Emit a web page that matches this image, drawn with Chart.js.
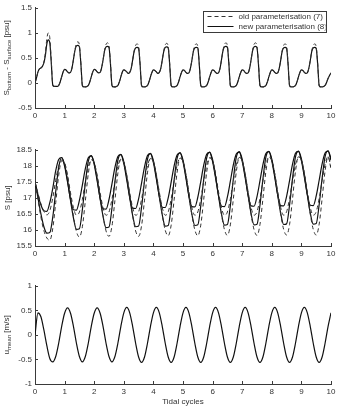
<!DOCTYPE html>
<html>
<head>
<meta charset="utf-8">
<script src="https://cdn.jsdelivr.net/npm/chart.js@4.4.0/dist/chart.umd.min.js"></script>
<style>
  html, body { margin: 0; padding: 0; background: #fff; }
  #wrap { position: relative; width: 341px; height: 410px; }
  canvas { position: absolute; left: 0; }
</style>
</head>
<body>
<div id="wrap">
  <canvas id="cDiff" width="341" height="125" style="top:0px"></canvas>
  <canvas id="cSal" width="341" height="121" style="top:142px"></canvas>
  <canvas id="cVel" width="341" height="132" style="top:278px"></canvas>
</div>
<script>
// sample times (tidal cycles)
const tTop = Array.from({ length: 201 }, (_, i) => i / 20);
const tMid = Array.from({ length: 101 }, (_, i) => i / 10);

// tick labels
const xTicks = [0, 1, 2, 3, 4, 5, 6, 7, 8, 9, 10];
const diffTicks = [-0.5, 0, 0.5, 1, 1.5];
const salTicks = [15.5, 16, 16.5, 17, 17.5, 18, 18.5];
const velTicks = [-1, -0.5, 0, 0.5, 1];

const labelOld = 'old parameterisation (7)';
const labelNew = 'new parameterisation (8)';

// S_bottom - S_surface, step 0.05
const diffNew = [
  0.00, 0.10, 0.22, 0.28, 0.30, 0.33, 0.40, 0.55, 0.78, 0.86, 0.80, 0.40, -0.04, -0.07, -0.07, -0.07, -0.05, 0.02, 0.12, 0.22,
  0.27, 0.26, 0.22, 0.20, 0.21, 0.30, 0.47, 0.65, 0.74, 0.75, 0.72, 0.38, -0.05, -0.08, -0.08, -0.07, -0.05, 0.02, 0.12, 0.22,
  0.27, 0.26, 0.22, 0.20, 0.21, 0.30, 0.46, 0.64, 0.72, 0.73, 0.71, 0.38, -0.05, -0.08, -0.08, -0.07, -0.05, 0.02, 0.12, 0.22,
  0.26, 0.25, 0.22, 0.19, 0.21, 0.29, 0.46, 0.63, 0.70, 0.71, 0.69, 0.37, -0.05, -0.08, -0.08, -0.07, -0.05, 0.02, 0.12, 0.21,
  0.26, 0.25, 0.22, 0.19, 0.21, 0.29, 0.46, 0.63, 0.71, 0.72, 0.70, 0.37, -0.05, -0.08, -0.08, -0.07, -0.05, 0.02, 0.12, 0.21,
  0.26, 0.25, 0.21, 0.19, 0.20, 0.29, 0.45, 0.63, 0.70, 0.71, 0.70, 0.37, -0.05, -0.08, -0.08, -0.07, -0.05, 0.02, 0.12, 0.21,
  0.26, 0.25, 0.21, 0.19, 0.20, 0.29, 0.46, 0.64, 0.72, 0.73, 0.71, 0.38, -0.05, -0.08, -0.08, -0.07, -0.05, 0.02, 0.12, 0.21,
  0.26, 0.25, 0.21, 0.19, 0.20, 0.29, 0.46, 0.64, 0.72, 0.73, 0.70, 0.37, -0.05, -0.08, -0.08, -0.07, -0.05, 0.02, 0.12, 0.21,
  0.26, 0.25, 0.21, 0.19, 0.20, 0.29, 0.45, 0.63, 0.70, 0.71, 0.69, 0.37, -0.05, -0.08, -0.08, -0.07, -0.05, 0.02, 0.12, 0.21,
  0.26, 0.25, 0.21, 0.19, 0.20, 0.29, 0.45, 0.63, 0.70, 0.71, 0.69, 0.37, -0.05, -0.08, -0.08, -0.07, -0.05, 0.01, 0.09, 0.15,
  0.20
];
const diffOld = [
  0.00, 0.10, 0.22, 0.28, 0.30, 0.33, 0.42, 0.60, 0.88, 1.00, 0.90, 0.45, -0.04, -0.07, -0.07, -0.07, -0.05, 0.02, 0.12, 0.22,
  0.27, 0.26, 0.22, 0.20, 0.21, 0.30, 0.47, 0.66, 0.79, 0.82, 0.75, 0.40, -0.05, -0.08, -0.08, -0.07, -0.05, 0.02, 0.12, 0.22,
  0.27, 0.26, 0.22, 0.20, 0.21, 0.30, 0.46, 0.65, 0.77, 0.80, 0.74, 0.40, -0.05, -0.08, -0.08, -0.07, -0.05, 0.02, 0.12, 0.22,
  0.26, 0.25, 0.22, 0.19, 0.21, 0.29, 0.46, 0.64, 0.75, 0.78, 0.72, 0.39, -0.05, -0.08, -0.08, -0.07, -0.05, 0.02, 0.12, 0.21,
  0.26, 0.25, 0.22, 0.19, 0.21, 0.29, 0.46, 0.64, 0.76, 0.79, 0.73, 0.39, -0.05, -0.08, -0.08, -0.07, -0.05, 0.02, 0.12, 0.21,
  0.26, 0.25, 0.21, 0.19, 0.20, 0.29, 0.45, 0.64, 0.75, 0.78, 0.73, 0.39, -0.05, -0.08, -0.08, -0.07, -0.05, 0.02, 0.12, 0.21,
  0.26, 0.25, 0.21, 0.19, 0.20, 0.29, 0.46, 0.65, 0.77, 0.80, 0.74, 0.40, -0.05, -0.08, -0.08, -0.07, -0.05, 0.02, 0.12, 0.21,
  0.26, 0.25, 0.21, 0.19, 0.20, 0.29, 0.46, 0.65, 0.77, 0.80, 0.73, 0.39, -0.05, -0.08, -0.08, -0.07, -0.05, 0.02, 0.12, 0.21,
  0.26, 0.25, 0.21, 0.19, 0.20, 0.29, 0.45, 0.64, 0.75, 0.78, 0.72, 0.39, -0.05, -0.08, -0.08, -0.07, -0.05, 0.02, 0.12, 0.21,
  0.26, 0.25, 0.21, 0.19, 0.20, 0.29, 0.45, 0.64, 0.75, 0.78, 0.72, 0.39, -0.05, -0.08, -0.08, -0.07, -0.05, 0.01, 0.09, 0.15,
  0.20
];

// salinity [psu], step 0.1
const salNewBottom = [
  17.50, 17.10, 16.78, 16.60, 16.58, 16.85, 17.30, 17.85, 18.20, 18.26,
  17.99, 17.49, 16.96, 16.63, 16.62, 16.92, 17.40, 17.91, 18.25, 18.31,
  18.04, 17.53, 16.99, 16.66, 16.65, 16.95, 17.44, 17.95, 18.29, 18.35,
  18.07, 17.56, 17.02, 16.68, 16.67, 16.97, 17.46, 17.97, 18.32, 18.38,
  18.10, 17.59, 17.05, 16.71, 16.70, 17.00, 17.49, 18.00, 18.34, 18.40,
  18.12, 17.61, 17.07, 16.73, 16.72, 17.02, 17.51, 18.02, 18.36, 18.42,
  18.13, 17.62, 17.08, 16.74, 16.73, 17.03, 17.52, 18.03, 18.37, 18.43,
  18.14, 17.63, 17.09, 16.75, 16.74, 17.04, 17.53, 18.04, 18.38, 18.44,
  18.15, 17.64, 17.10, 16.76, 16.75, 17.05, 17.54, 18.05, 18.39, 18.45,
  18.16, 17.65, 17.11, 16.77, 16.76, 17.06, 17.55, 18.06, 18.40, 18.46,
  18.17
];
const salNewSurface = [
  17.50, 17.00, 16.50, 16.10, 15.90, 15.92, 16.40, 17.20, 17.95, 18.26,
  18.04, 17.54, 16.92, 16.37, 16.02, 16.04, 16.63, 17.46, 18.14, 18.32,
  18.09, 17.59, 16.97, 16.42, 16.07, 16.09, 16.68, 17.50, 18.18, 18.36,
  18.13, 17.63, 17.01, 16.45, 16.10, 16.12, 16.71, 17.53, 18.21, 18.39,
  18.16, 17.65, 17.03, 16.47, 16.12, 16.14, 16.73, 17.55, 18.23, 18.41,
  18.18, 17.67, 17.05, 16.49, 16.14, 16.16, 16.75, 17.57, 18.25, 18.43,
  18.19, 17.68, 17.06, 16.50, 16.15, 16.17, 16.76, 17.58, 18.26, 18.44,
  18.20, 17.69, 17.07, 16.51, 16.16, 16.18, 16.77, 17.59, 18.27, 18.45,
  18.21, 17.70, 17.08, 16.52, 16.17, 16.19, 16.78, 17.60, 18.28, 18.46,
  18.22, 17.71, 17.09, 16.53, 16.18, 16.20, 16.79, 17.61, 18.29, 18.47,
  18.23
];
const salOldBottom = [
  17.50, 17.15, 16.82, 16.58, 16.47, 16.60, 17.00, 17.55, 18.00, 18.18,
  18.09, 17.70, 17.16, 16.69, 16.46, 16.56, 16.95, 17.49, 17.96, 18.19,
  18.09, 17.70, 17.16, 16.69, 16.46, 16.56, 16.96, 17.50, 17.98, 18.21,
  18.11, 17.71, 17.17, 16.69, 16.46, 16.56, 16.96, 17.51, 18.00, 18.23,
  18.13, 17.73, 17.18, 16.69, 16.46, 16.56, 16.97, 17.52, 18.01, 18.24,
  18.14, 17.73, 17.18, 16.69, 16.46, 16.56, 16.97, 17.52, 18.02, 18.25,
  18.15, 17.74, 17.19, 16.69, 16.46, 16.56, 16.97, 17.53, 18.03, 18.26,
  18.16, 17.75, 17.19, 16.70, 16.46, 16.57, 16.98, 17.53, 18.03, 18.27,
  18.17, 17.75, 17.19, 16.70, 16.46, 16.57, 16.98, 17.54, 18.04, 18.28,
  18.18, 17.76, 17.20, 16.70, 16.46, 16.57, 16.98, 17.54, 18.05, 18.29,
  17.95
];
const salOldSurface = [
  17.50, 16.95, 16.40, 15.98, 15.75, 15.68, 16.05, 16.85, 17.70, 18.15,
  18.09, 17.67, 17.06, 16.42, 15.95, 15.78, 16.10, 16.90, 17.75, 18.19,
  18.09, 17.67, 17.06, 16.44, 15.97, 15.80, 16.12, 16.92, 17.77, 18.21,
  18.11, 17.69, 17.08, 16.44, 15.97, 15.80, 16.13, 16.93, 17.78, 18.23,
  18.13, 17.71, 17.10, 16.46, 15.99, 15.82, 16.15, 16.94, 17.79, 18.24,
  18.14, 17.72, 17.10, 16.47, 16.00, 15.82, 16.15, 16.95, 17.80, 18.25,
  18.15, 17.73, 17.11, 16.48, 16.01, 15.83, 16.16, 16.96, 17.81, 18.26,
  18.16, 17.74, 17.12, 16.48, 16.01, 15.83, 16.17, 16.97, 17.82, 18.27,
  18.17, 17.75, 17.13, 16.49, 16.02, 15.84, 16.17, 16.97, 17.83, 18.28,
  18.18, 17.76, 17.14, 16.49, 16.02, 15.84, 16.18, 16.98, 17.84, 18.29,
  17.90
];

// depth mean velocity [m/s], step 0.1
const uMean = [
  0.00, 0.45, 0.37, 0.10, -0.22, -0.48, -0.55, -0.44, -0.17, 0.17,
  0.44, 0.55, 0.44, 0.17, -0.17, -0.44, -0.55, -0.44, -0.17, 0.17,
  0.44, 0.55, 0.44, 0.17, -0.17, -0.44, -0.55, -0.44, -0.17, 0.17,
  0.45, 0.56, 0.45, 0.17, -0.17, -0.45, -0.56, -0.45, -0.17, 0.17,
  0.45, 0.56, 0.45, 0.17, -0.17, -0.45, -0.56, -0.45, -0.17, 0.17,
  0.45, 0.56, 0.45, 0.17, -0.17, -0.45, -0.56, -0.45, -0.17, 0.17,
  0.45, 0.56, 0.45, 0.17, -0.17, -0.45, -0.56, -0.45, -0.17, 0.17,
  0.45, 0.56, 0.45, 0.17, -0.17, -0.45, -0.56, -0.45, -0.17, 0.17,
  0.45, 0.56, 0.45, 0.17, -0.17, -0.45, -0.56, -0.45, -0.17, 0.17,
  0.45, 0.56, 0.45, 0.17, -0.17, -0.45, -0.56, -0.45, -0.17, 0.17,
  0.45
];

const FONT = '"Liberation Sans", Arial, sans-serif';
const axisColor = '#3a3a3a';
const textColor = '#333';
const solidColor = '#111';
const dashColor = '#333';

Chart.defaults.font.family = FONT;
Chart.defaults.font.size = 8;
Chart.defaults.color = textColor;

// MATLAB style ticks pointing into the axes
const inwardTicks = {
  id: 'inwardTicks',
  afterDraw(chart) {
    const { ctx, chartArea: a, scales: { x, y } } = chart;
    ctx.save();
    ctx.strokeStyle = axisColor;
    ctx.lineWidth = 1;
    ctx.beginPath();
    x.ticks.forEach(t => {
      const px = Math.round(x.getPixelForValue(t.value)) + 0.5;
      ctx.moveTo(px, a.bottom);
      ctx.lineTo(px, a.bottom - 3);
    });
    y.ticks.forEach(t => {
      const py = Math.round(y.getPixelForValue(t.value)) + 0.5;
      ctx.moveTo(a.left, py);
      ctx.lineTo(a.left + 3, py);
    });
    ctx.stroke();
    ctx.restore();
  }
};

// rotated y label with subscripts: parts = [text, isSub]
function yLabel(parts, xPos) {
  return {
    id: 'yLabel',
    afterDraw(chart) {
      const { ctx, chartArea: a } = chart;
      const big = '8px ' + FONT, small = '6px ' + FONT;
      ctx.save();
      let total = 0;
      parts.forEach(p => { ctx.font = p[1] ? small : big; total += ctx.measureText(p[0]).width; });
      ctx.translate(xPos, (a.top + a.bottom) / 2);
      ctx.rotate(-Math.PI / 2);
      ctx.fillStyle = textColor;
      ctx.textBaseline = 'alphabetic';
      let cx = -total / 2;
      parts.forEach(p => {
        ctx.font = p[1] ? small : big;
        ctx.fillText(p[0], cx, p[1] ? 5 : 3);
        cx += ctx.measureText(p[0]).width;
      });
      ctx.restore();
    }
  };
}

// boxed legend in the upper right of the first panel
const boxLegend = {
  id: 'boxLegend',
  afterDraw(chart) {
    const { ctx } = chart;
    const ds = chart.data.datasets;
    const bx = 203.5, by = 11.5, bw = 123, bh = 21;
    ctx.save();
    ctx.fillStyle = '#fff';
    ctx.fillRect(bx, by, bw, bh);
    ctx.strokeStyle = axisColor;
    ctx.lineWidth = 1;
    ctx.strokeRect(bx, by, bw, bh);
    ctx.beginPath();
    ctx.rect(bx, by, bw - 1, bh);
    ctx.clip();
    ds.forEach((d, i) => {
      const ly = by + 5 + i * 10;
      ctx.beginPath();
      ctx.strokeStyle = d.borderColor;
      ctx.lineWidth = d.borderWidth;
      ctx.setLineDash(d.borderDash || []);
      ctx.moveTo(bx + 4, ly);
      ctx.lineTo(bx + 30, ly);
      ctx.stroke();
      ctx.setLineDash([]);
      ctx.fillStyle = textColor;
      ctx.font = '8px ' + FONT;
      ctx.textBaseline = 'middle';
      ctx.fillText(d.label, bx + 35, ly + 0.5);
    });
    ctx.restore();
  }
};

function lineSet(label, values, dashed) {
  return {
    label: label,
    data: values,
    borderColor: dashed ? dashColor : solidColor,
    borderWidth: dashed ? 1 : 1.2,
    borderDash: dashed ? [4, 3] : [],
    pointRadius: 0,
    fill: false,
    tension: 0,
    cubicInterpolationMode: 'monotone'
  };
}

function makeOptions(yMin, yMax, yTickList, xTitle, xHeight) {
  return {
    responsive: false,
    animation: false,
    layout: { padding: { top: 7, right: 10, left: 0, bottom: 0 } },
    plugins: { legend: { display: false }, tooltip: { enabled: false } },
    scales: {
      x: {
        type: 'linear',
        min: 0,
        max: 10,
        afterBuildTicks: s => { s.ticks = xTicks.map(v => ({ value: v })); },
        afterFit: s => { s.height = xHeight; },
        grid: { display: false, drawTicks: false },
        border: { display: true, color: axisColor, width: 1 },
        ticks: { padding: 3, color: textColor, maxRotation: 0, font: { size: 8 }, callback: v => String(v) },
        title: xTitle ? { display: true, text: xTitle, color: textColor, font: { size: 8 }, padding: { top: 0, bottom: 3 } } : { display: false }
      },
      y: {
        min: yMin,
        max: yMax,
        afterBuildTicks: s => { s.ticks = yTickList.map(v => ({ value: v })); },
        afterFit: s => { s.width = 35; },
        grid: { display: false, drawTicks: false },
        border: { display: true, color: axisColor, width: 1 },
        ticks: { padding: 3, color: textColor, font: { size: 8 }, callback: v => String(v) }
      }
    }
  };
}

new Chart(document.getElementById('cDiff'), {
  type: 'line',
  data: {
    labels: tTop,
    datasets: [lineSet(labelOld, diffOld, true), lineSet(labelNew, diffNew, false)]
  },
  options: makeOptions(-0.5, 1.5, diffTicks, null, 17),
  plugins: [inwardTicks, boxLegend,
    yLabel([['S', 0], ['bottom', 1], [' - S', 0], ['surface', 1], [' [psu]', 0]], 6)]
});

new Chart(document.getElementById('cSal'), {
  type: 'line',
  data: {
    labels: tMid,
    datasets: [
      lineSet(labelOld, salOldSurface, true),
      lineSet(labelOld, salOldBottom, true),
      lineSet(labelNew, salNewSurface, false),
      lineSet(labelNew, salNewBottom, false)
    ]
  },
  options: makeOptions(15.5, 18.5, salTicks, null, 17),
  plugins: [inwardTicks, yLabel([['S [psu]', 0]], 7)]
});

new Chart(document.getElementById('cVel'), {
  type: 'line',
  data: {
    labels: tMid,
    datasets: [lineSet('u mean', uMean, false)]
  },
  options: makeOptions(-1, 1, velTicks, 'Tidal cycles', 26),
  plugins: [inwardTicks, yLabel([['u', 0], ['mean', 1], [' [m/s]', 0]], 6)]
});
</script>
</body>
</html>
